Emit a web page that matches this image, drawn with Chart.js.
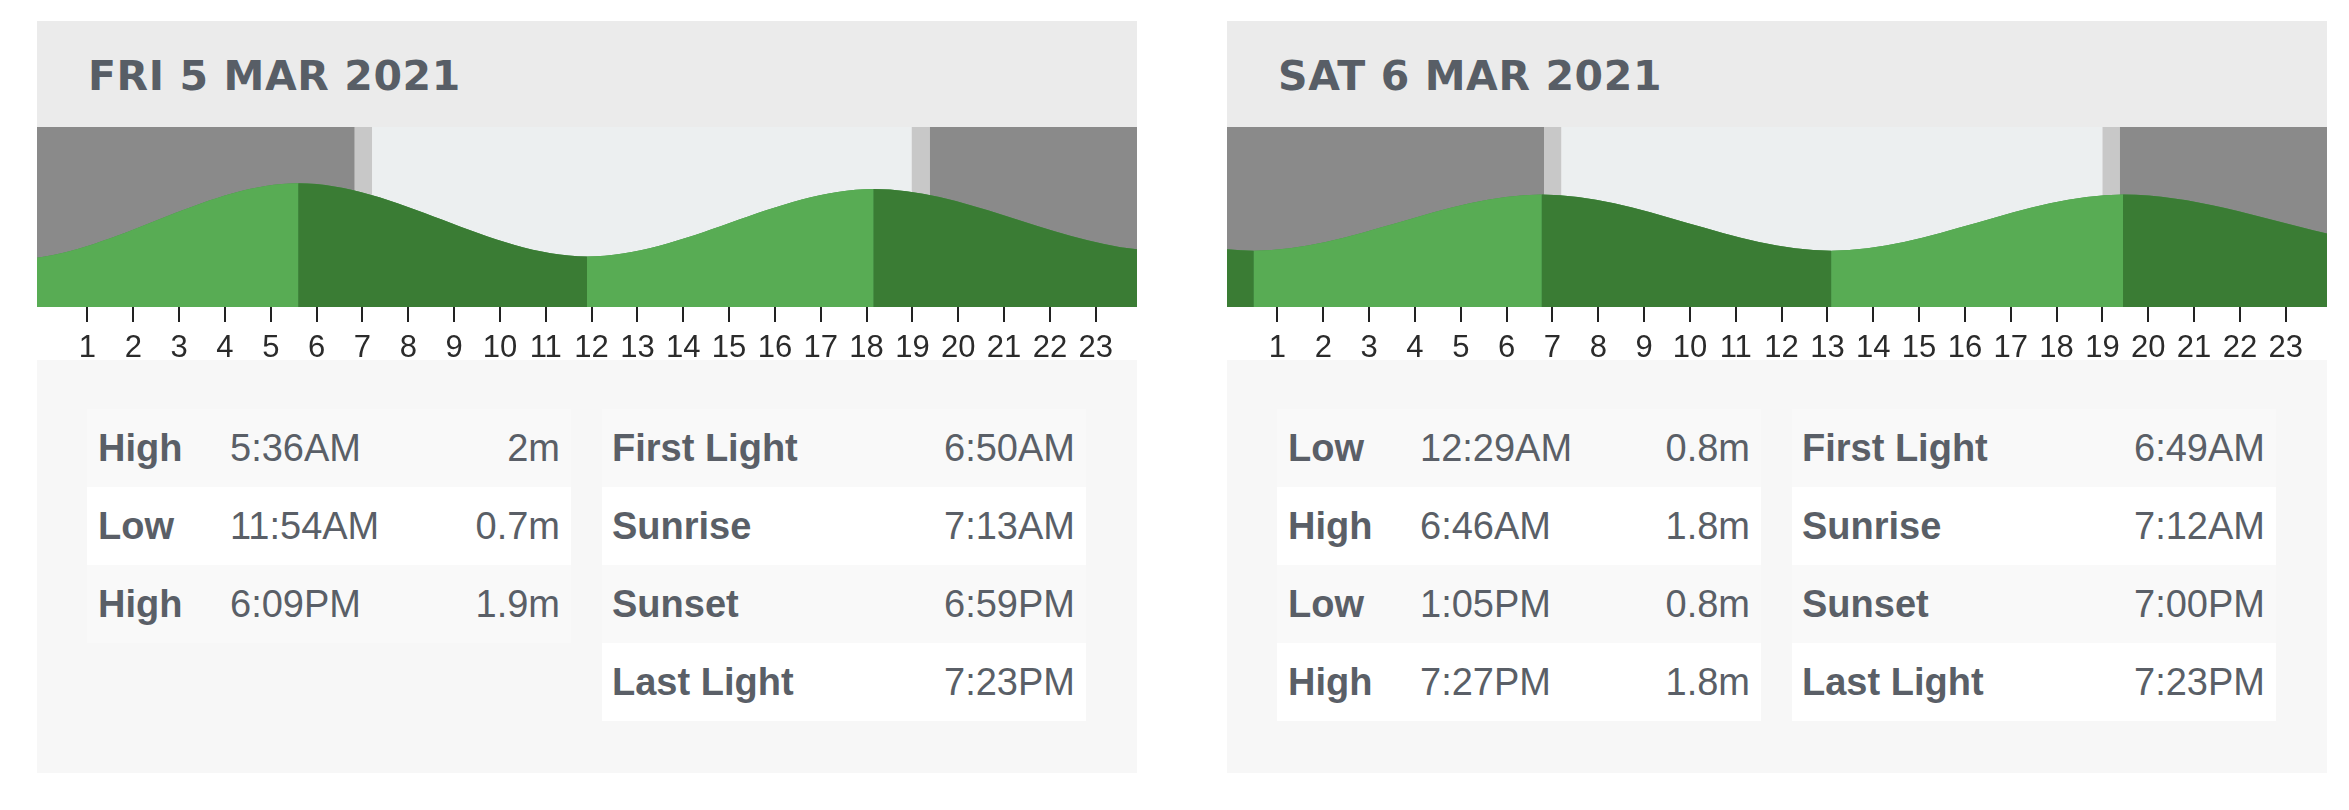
<!DOCTYPE html>
<html lang="en">
<head>
<meta charset="UTF-8">
<title>Tide times</title>
<script src="https://cdn.jsdelivr.net/npm/chart.js"></script>
<style>
  body { margin: 0; width: 2349px; height: 810px; background: #fff; position: relative; overflow: hidden;
         font-family: "Liberation Sans", Arial, sans-serif; color: #5a5f67; }
  .day { position: absolute; top: 21px; width: 1100px; height: 752px; background: #f7f7f7; }
  .head { height: 106px; line-height: 110px; background: #ebebeb; padding-left: 51px; overflow: hidden;
          font-family: "DejaVu Sans", sans-serif; font-weight: bold; font-size: 41px; letter-spacing: 0.6px; color: #585e66; }
  .chart { height: 233px; background: #fff; }
  .chart canvas { display: block; }
  .tables { position: relative; }
  .tbl { position: absolute; top: 49px; width: 484px; font-size: 38px; }
  .row { position: relative; height: 78px; line-height: 78px; white-space: nowrap; }
  .row:nth-child(odd) { background: #f9f9f9; }
  .row:nth-child(even) { background: #fff; }
  .row span { position: absolute; top: 0; }
  .b { font-weight: bold; }
</style>
</head>
<body>
  <div class="day" style="left:37px">
    <div class="head">FRI 5 MAR 2021</div>
    <div class="chart"><canvas id="friChart" width="1100" height="233"></canvas></div>
    <div class="tables"><div class="tbl" id="friTide" style="left:50px"></div><div class="tbl" id="friLight" style="left:565px"></div></div>
  </div>
  <div class="day" style="left:1227px">
    <div class="head">SAT 6 MAR 2021</div>
    <div class="chart"><canvas id="satChart" width="1100" height="233"></canvas></div>
    <div class="tables"><div class="tbl" id="satTide" style="left:50px"></div><div class="tbl" id="satLight" style="left:565px"></div></div>
  </div>

<script>
  // tide table values
  const friTideType = ['High', 'Low', 'High'];
  const friTideTime = ['5:36AM', '11:54AM', '6:09PM'];
  const friTideHeight = [2, 0.7, 1.9];
  const satTideType = ['Low', 'High', 'Low', 'High'];
  const satTideTime = ['12:29AM', '6:46AM', '1:05PM', '7:27PM'];
  const satTideHeight = [0.8, 1.8, 0.8, 1.8];

  // light table values
  const lightNames = ['First Light', 'Sunrise', 'Sunset', 'Last Light'];
  const friLightTime = ['6:50AM', '7:13AM', '6:59PM', '7:23PM'];
  const satLightTime = ['6:49AM', '7:12AM', '7:00PM', '7:23PM'];

  // turns of the tide just off the page edges (hours from Fri 00:00, metres), estimated from the curve ends
  const thuTurnHour = [-6.9, -0.7];
  const thuTurnHeight = [2.0, 0.64];
  const sunTurnHour = [50.2, 56.5];
  const sunTurnHeight = [0.85, 1.75];

  const hourTicks = [1, 2, 3, 4, 5, 6, 7, 8, 9, 10, 11, 12, 13, 14, 15, 16, 17, 18, 19, 20, 21, 22, 23];

  const NIGHT = '#8a8a8a', TWILIGHT = '#c8c8c8', DAYLIGHT = '#eceff0';
  const RISING = '#58ac54', FALLING = '#3a7c34', SEAM = '#49944a';

  function toHours(s) {
    const m = s.match(/(\d+):(\d+)(AM|PM)/);
    let h = parseInt(m[1]) % 12;
    if (m[3] === 'PM') h += 12;
    return h + parseInt(m[2]) / 60;
  }

  // one continuous tide curve, Fri 00:00 = 0
  const tidePoints = [];
  thuTurnHour.forEach((h, i) => tidePoints.push({x: h, y: thuTurnHeight[i]}));
  friTideTime.forEach((t, i) => tidePoints.push({x: toHours(t), y: friTideHeight[i]}));
  satTideTime.forEach((t, i) => tidePoints.push({x: 24 + toHours(t), y: satTideHeight[i]}));
  sunTurnHour.forEach((h, i) => tidePoints.push({x: h, y: sunTurnHeight[i]}));

  function fillTable(id, rows) {
    const el = document.getElementById(id);
    rows.forEach(cells => {
      const row = document.createElement('div');
      row.className = 'row';
      cells.forEach(c => {
        const s = document.createElement('span');
        s.textContent = c.text;
        s.style.cssText = c.style;
        if (c.bold) s.className = 'b';
        row.appendChild(s);
      });
      el.appendChild(row);
    });
  }

  function tideRows(types, times, heights) {
    return types.map((t, i) => [
      {text: t, style: 'left:11px', bold: true},
      {text: times[i], style: 'left:143px'},
      {text: heights[i] + 'm', style: 'right:11px'}
    ]);
  }

  function lightRows(times) {
    return lightNames.map((n, i) => [
      {text: n, style: 'left:10px', bold: true},
      {text: times[i], style: 'right:11px'}
    ]);
  }

  fillTable('friTide', tideRows(friTideType, friTideTime, friTideHeight));
  fillTable('satTide', tideRows(satTideType, satTideTime, satTideHeight));
  fillTable('friLight', lightRows(friLightTime));
  fillTable('satLight', lightRows(satLightTime));

  // night / twilight / day behind the curve
  const lightBands = {
    id: 'lightBands',
    beforeDatasetsDraw(chart, args, opts) {
      const {ctx, chartArea: a, scales: {x}} = chart;
      const edges = [x.min].concat(opts.times, [x.max]);
      const colors = [NIGHT, TWILIGHT, DAYLIGHT, TWILIGHT, NIGHT];
      ctx.save();
      colors.forEach((c, i) => {
        const x0 = x.getPixelForValue(edges[i]);
        const x1 = x.getPixelForValue(edges[i + 1]);
        ctx.fillStyle = c;
        ctx.fillRect(x0, a.top, x1 - x0, a.bottom - a.top);
      });
      ctx.restore();
    }
  };

  function makeChart(id, dayStart, lightTimes) {
    const tideStyle = {
      data: tidePoints,
      fill: 'start',
      borderColor: 'rgba(0,0,0,0)',
      borderWidth: 0,
      pointRadius: 0,
      cubicInterpolationMode: 'monotone'
    };
    new Chart(document.getElementById(id), {
      type: 'line',
      data: {
        datasets: [
          Object.assign({}, tideStyle, {
            backgroundColor: RISING,
            segment: {
              backgroundColor: c => c.p1.parsed.y > c.p0.parsed.y ? RISING : FALLING
            }
          }),
          // same curve underneath so the joins between the colours show no gap
          Object.assign({}, tideStyle, { backgroundColor: SEAM })
        ]
      },
      options: {
        responsive: false,
        devicePixelRatio: 1,
        animation: false,
        events: [],
        layout: { padding: 0 },
        plugins: {
          legend: { display: false },
          tooltip: { enabled: false },
          lightBands: { times: lightTimes.map(t => dayStart + toHours(t)) }
        },
        scales: {
          x: {
            type: 'linear',
            min: dayStart - 0.1,
            max: dayStart + 23.9,
            afterBuildTicks: axis => { axis.ticks = hourTicks.map(h => ({value: dayStart + h})); },
            afterFit: axis => { axis.height = 53; },
            border: { display: false },
            grid: { drawOnChartArea: false, drawTicks: true, tickLength: 15, color: '#222', lineWidth: 2 },
            ticks: {
              autoSkip: false,
              maxRotation: 0,
              padding: 8,
              color: '#2b2b2b',
              font: { family: "'Liberation Sans', Arial, sans-serif", size: 31 },
              callback: v => Math.round(v - dayStart)
            }
          },
          y: { display: false, min: -0.2, max: 3.0 }
        }
      },
      plugins: [lightBands]
    });
  }

  makeChart('friChart', 0, friLightTime);
  makeChart('satChart', 24, satLightTime);
</script>
</body>
</html>
